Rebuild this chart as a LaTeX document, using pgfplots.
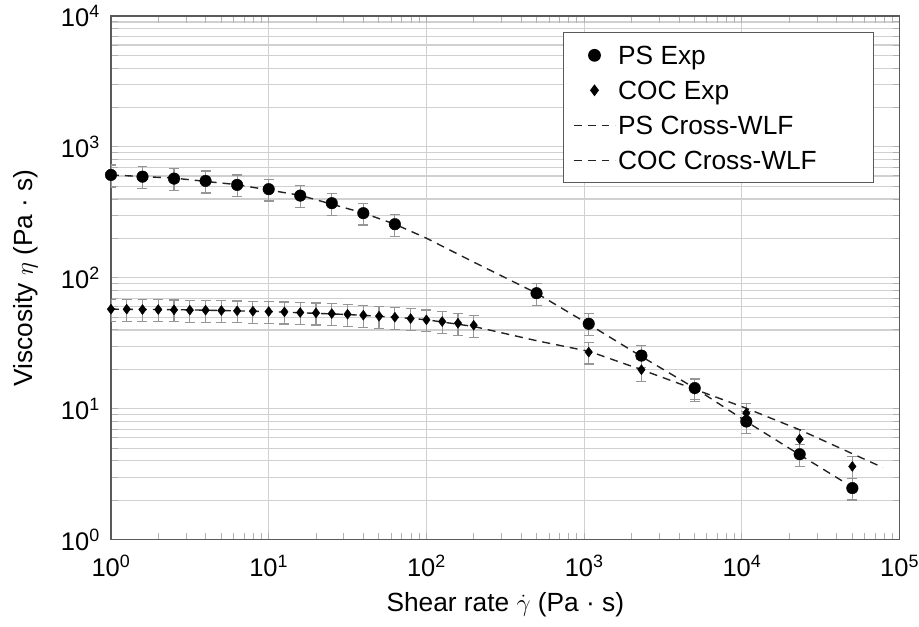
\documentclass[border=0pt]{standalone}
\usepackage{pgfplots}
\pgfplotsset{compat=1.18}
\usepackage{fontspec}
\setmainfont{Liberation Sans}
\definecolor{gridc}{RGB}{208,208,208}
\definecolor{axc}{RGB}{90,90,90}
\definecolor{errc}{RGB}{150,150,150}
\definecolor{linec}{RGB}{35,35,35}
\newcommand{\fs}{\fontsize{25.5}{30}\selectfont}
\newcommand{\fl}{\fontsize{26.3}{31}\selectfont}
\begin{document}
\begin{tikzpicture}
\begin{axis}[
  at={(0pt,0pt)}, anchor=south west,
  scale only axis, width=789pt, height=524pt,
  xmode=log, ymode=log,
  xmin=1, xmax=100000, ymin=1, ymax=10000,
  xtick={1,10,100,1000,10000,100000},
  xticklabels={10\textsuperscript{0},10\textsuperscript{1},10\textsuperscript{2},10\textsuperscript{3},10\textsuperscript{4},10\textsuperscript{5}},
  ytick={1,10,100,1000,10000},
  yticklabels={10\textsuperscript{0},10\textsuperscript{1},10\textsuperscript{2},10\textsuperscript{3},10\textsuperscript{4}},
  xmajorgrids, ymajorgrids, yminorgrids,
  major grid style={gridc, line width=1.1pt},
  minor grid style={gridc, line width=1.1pt},
  axis line style={axc, line width=1.3pt},
  tick style={gridc!85!black, line width=1pt},
  major tick length=7pt, minor tick length=7pt,
  tick label style={font=\fs},
  xticklabel style={anchor=base, yshift=-37pt, inner sep=0pt},
  yticklabel style={anchor=east, xshift=-11pt, inner sep=0pt},
  xlabel={Shear rate $\dot{\gamma}$ (Pa · s)},
  ylabel={Viscosity $\eta$ (Pa · s)},
  xlabel style={font=\fl, at={(axis description cs:0.5,-0.137)}, anchor=base},
  ylabel style={font=\fl, at={(axis description cs:-0.0989,0.5)}, anchor=base},
  legend style={at={(axis description cs:0.968,0.969)}, anchor=north east,
    draw=axc, line width=1.2pt, font=\fl, inner xsep=9pt, inner ysep=5pt,
    nodes={text height=22pt, text depth=3pt, inner ysep=5pt}},
  legend cell align=left,
  legend image code/.code={\draw[#1,mark repeat=2,mark phase=2] plot coordinates {(0pt,0pt) (21pt,0pt) (42pt,0pt)};},
]
% PS experimental
\addplot[only marks, mark=*, mark size=5.8pt, mark options={fill=black, draw=black},
  error bars/.cd, y dir=both, y explicit,
  error bar style={errc, line width=1.2pt},
  error mark options={errc, mark size=5pt, line width=1.2pt, rotate=90}]
coordinates {
(1,611) +- (0,116)
(1.585,593) +- (0,113)
(2.512,573) +- (0,109)
(3.981,550) +- (0,105)
(6.310,513) +- (0,97)
(10,476) +- (0,90)
(15.85,425) +- (0,81)
(25.12,372) +- (0,71)
(39.81,312) +- (0,59)
(63.10,257) +- (0,49)
(499,76.4) +- (0,14.5)
(1069,44.6) +- (0,8.5)
(2307,25.5) +- (0,4.8)
(5023,14.4) +- (0,2.7)
(10670,8.0) +- (0,1.5)
(23240,4.5) +- (0,0.86)
(50150,2.48) +- (0,0.47)
};
\addlegendentry{PS Exp}
% COC experimental
\addplot[only marks, mark=diamond*, mark size=5pt, mark options={fill=black, draw=black},
  error bars/.cd, y dir=both, y explicit,
  error bar style={errc, line width=1.2pt},
  error mark options={errc, mark size=5pt, line width=1.2pt, rotate=90}]
coordinates {
(1,57.7) +- (0,11.0)
(1.259,57.7) +- (0,11.0)
(1.585,57.3) +- (0,10.9)
(1.995,57.3) +- (0,10.9)
(2.512,57.0) +- (0,10.8)
(3.162,56.7) +- (0,10.8)
(3.981,56.7) +- (0,10.8)
(5.012,56.3) +- (0,10.7)
(6.310,56.0) +- (0,10.6)
(7.943,55.7) +- (0,10.6)
(10,55.3) +- (0,10.5)
(12.59,55.0) +- (0,10.5)
(15.85,54.4) +- (0,10.3)
(19.95,54.0) +- (0,10.3)
(25.12,53.4) +- (0,10.1)
(31.62,52.8) +- (0,10.0)
(39.81,51.9) +- (0,9.9)
(50.12,51.0) +- (0,9.7)
(63.10,50.1) +- (0,9.5)
(79.43,48.9) +- (0,9.3)
(100,47.8) +- (0,9.1)
(125.9,46.4) +- (0,8.8)
(158.5,45.1) +- (0,8.6)
(199.5,43.5) +- (0,8.3)
(1069,27.1) +- (0,5.1)
(2307,19.9) +- (0,3.8)
(5023,14.1) +- (0,2.7)
(10670,9.27) +- (0,1.76)
(23240,5.87) +- (0,1.12)
(50150,3.63) +- (0,0.69)
};
\addlegendentry{COC Exp}
% PS Cross-WLF
\addplot[no marks, linec, line width=1.4pt, dash pattern=on 8pt off 6pt]
coordinates {
(1,611) (2.512,578) (6.31,515) (15.85,427) (39.8,313) (63.1,257) (100,201)
(199.5,132) (499,76.4) (1084,43.8) (2307,25.1) (5023,14.4) (10670,8.0)
(23230,4.46) (43750,2.79)
};
\addlegendentry{PS Cross-WLF}
% COC Cross-WLF
\addplot[no marks, linec, line width=1.4pt, dash pattern=on 8pt off 6pt]
coordinates {
(1,57.7) (3.16,57.0) (10,55.3) (31.6,52.5) (63.1,50.1) (100,47.9) (200.4,42.5)
(501,33.1) (1084,27.4) (2307,19.9) (5023,14.1) (10670,10.1) (23230,6.92) (78340,3.56)
};
\addlegendentry{COC Cross-WLF\hspace*{46pt}}
\end{axis}
\path (current axis.south west) ++(-111pt,-87pt);
\path (current axis.north east) ++(19pt,16pt);
\end{tikzpicture}
\end{document}
